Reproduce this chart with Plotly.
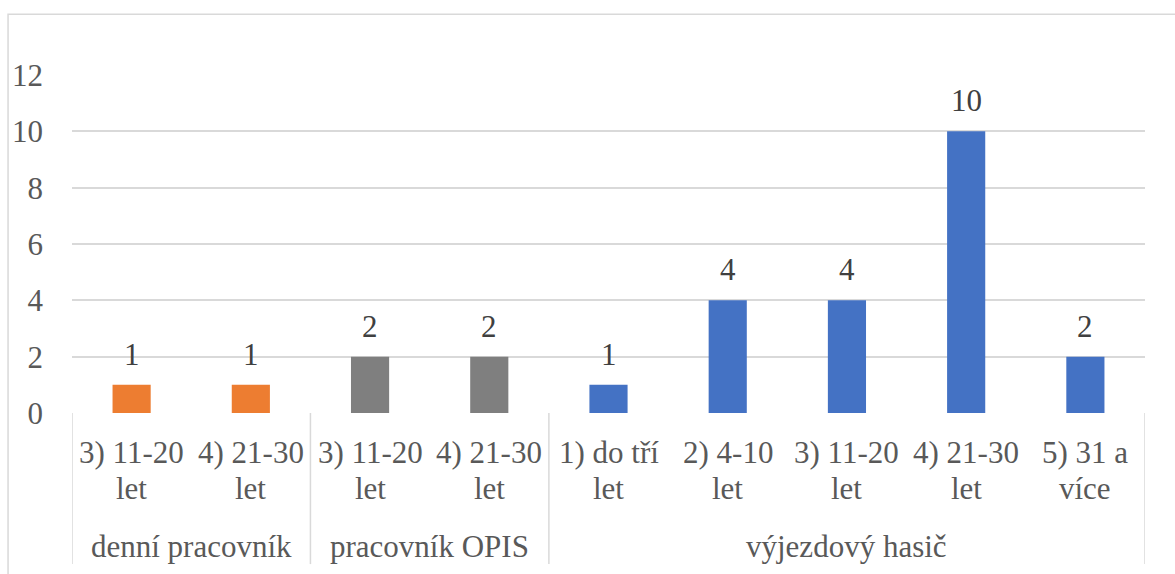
import plotly.graph_objects as go

# ---- data ----
line1 = ["3) 11-20", "4) 21-30", "3) 11-20", "4) 21-30", "1) do tří",
         "2) 4-10", "3) 11-20", "4) 21-30", "5) 31 a"]
line2 = ["let", "let", "let", "let", "let", "let", "let", "let", "více"]
values = [1, 1, 2, 2, 1, 4, 4, 10, 2]
groups = ["denní pracovník", "pracovník OPIS", "výjezdový hasič"]
group_sizes = [2, 2, 5]
group_colors = ["#ED7D31", "#7F7F7F", "#4472C4"]
y_ticks = [0, 2, 4, 6, 8, 10, 12]

FONT = "Times New Roman"
AXIS_COL = "#595959"
GRID_COL = "#d9d9d9"
FS = 31

fig = go.Figure()
annotations = []
shapes = []

start = 0
for g, n, c in zip(groups, group_sizes, group_colors):
    xs = list(range(start, start + n))
    fig.add_trace(go.Bar(x=xs, y=values[start:start + n], marker_color=c,
                         marker_line_width=0, width=0.32, name=g,
                         showlegend=False, hoverinfo="y"))
    annotations.append(dict(x=(start - 0.5 + start + n - 0.5) / 2, y=-0.396,
                            xref="x", yref="paper", text=g, showarrow=False,
                            xanchor="center", yanchor="middle",
                            font=dict(family=FONT, size=FS, color=AXIS_COL)))
    start += n

bounds = [-0.5]
acc = -0.5
for n in group_sizes:
    acc += n
    bounds.append(acc)
for b in bounds:
    shapes.append(dict(type="line", xref="x", yref="paper", x0=b, x1=b,
                       y0=0, y1=-0.447, line=dict(color=GRID_COL, width=1.5)))

for i, (a, b, v) in enumerate(zip(line1, line2, values)):
    annotations.append(dict(x=i, y=-0.1154, xref="x", yref="paper", text=a,
                            showarrow=False, xanchor="center", yanchor="middle",
                            font=dict(family=FONT, size=FS, color=AXIS_COL)))
    annotations.append(dict(x=i, y=-0.222, xref="x", yref="paper", text=b,
                            showarrow=False, xanchor="center", yanchor="middle",
                            font=dict(family=FONT, size=FS, color=AXIS_COL)))
    annotations.append(dict(x=i, y=v, xref="x", yref="y", text=str(v),
                            showarrow=False, xanchor="center", yanchor="bottom",
                            yshift=11,
                            font=dict(family=FONT, size=FS, color="#404040")))

shapes.append(dict(type="rect", xref="paper", yref="paper", x0=-0.0596, x1=1.2,
                   y0=-1.0, y1=1.180, line=dict(color=GRID_COL, width=1.5),
                   layer="below"))

fig.update_layout(
    width=1175, height=574, autosize=False,
    margin=dict(l=72, r=30, t=75, b=161),
    paper_bgcolor="white", plot_bgcolor="white",
    font=dict(family=FONT),
    xaxis=dict(range=[-0.5, 8.5], showticklabels=False, showgrid=False,
               zeroline=False, showline=False, fixedrange=True),
    yaxis=dict(range=[0, 12], tickvals=y_ticks, showgrid=True,
               gridcolor=GRID_COL, gridwidth=1.5, zeroline=False,
               showline=False, ticks="", ticklabelstandoff=28,
               tickfont=dict(family=FONT, size=FS, color=AXIS_COL)),
    annotations=annotations,
    shapes=shapes,
)

fig.write_html("out.html", config={"displayModeBar": False},
               post_script="document.body.style.margin='0';document.body.style.overflow='hidden';")
